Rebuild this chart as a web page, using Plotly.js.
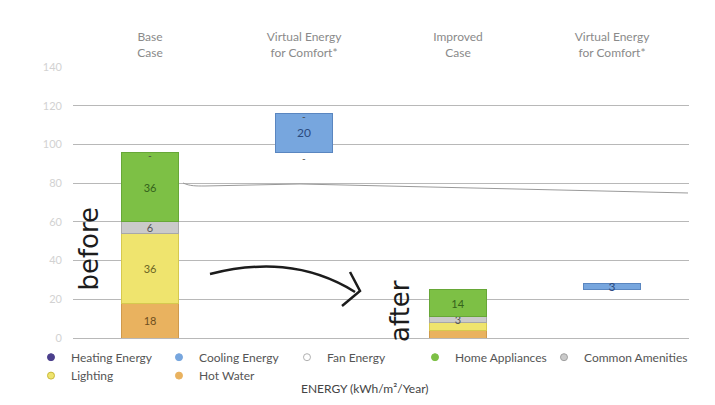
<!DOCTYPE html>
<html>
<head>
<meta charset="utf-8">
<script src="https://cdn.plot.ly/plotly-3.0.1.min.js"></script>
<style>html,body{margin:0;padding:0;background:#fff;}#chart{width:715px;height:405px;}</style>
</head>
<body>
<div id="chart"></div>
<script>
// ---- data ----
const categoryIds = ['base', 'virtual1', 'improved', 'virtual2'];
const categoryLabels = ['Base<br>Case', 'Virtual Energy<br>for Comfort*', 'Improved<br>Case', 'Virtual Energy<br>for Comfort*'];

const heatingEnergy   = [0, 0, 0, 0];
const coolingEnergy   = [0, 20, 0, 3];
const fanEnergy       = [0, 0, 0, 0];
const homeAppliances  = [36, 0, 14, 0];
const commonAmenities = [6, 0, 3, 0];
const lighting        = [36, 0, 4, 0];
const hotWater        = [18, 0, 4, 0];

const homeAppliancesLabels  = ['36', '', '14', ''];
const commonAmenitiesLabels = ['6', '', '3', ''];
const lightingLabels        = ['36', '', '', ''];
const hotWaterLabels        = ['18', '', '', ''];
const coolingLabels         = ['', '20', '', '3'];

// ---- build ----
const FONT = 'Lato, "Open Sans", sans-serif';
const BAR_W = 0.37;

function stackTrace(name, vals, labels, fill, edge, txtColor) {
  const x = [], y = [], t = [];
  vals.forEach((v, i) => { if (v) { x.push(categoryIds[i]); y.push(v); t.push(labels[i]); } });
  return {
    type: 'bar', name: name, x: x, y: y, text: t,
    textposition: 'inside', insidetextanchor: 'middle', constraintext: 'none', textangle: 0,
    textfont: {family: FONT, size: 11, color: txtColor},
    marker: {color: fill, line: {color: edge, width: 1}},
    width: BAR_W, showlegend: false, hoverinfo: 'x+y+name', cliponaxis: false
  };
}

// totals of the stacked cases (used as the base of the "virtual" floating bars)
const totals = categoryIds.map((_, i) => hotWater[i] + lighting[i] + commonAmenities[i] + homeAppliances[i] + heatingEnergy[i] + fanEnergy[i]);

const traces = [
  stackTrace('Hot Water', hotWater, hotWaterLabels, '#e9b25f', '#cf9a4c', '#6d4e1e'),
  stackTrace('Lighting', lighting, lightingLabels, '#efe46e', '#d6c94e', '#6b6424'),
  stackTrace('Common Amenities', commonAmenities, commonAmenitiesLabels, '#cacaca', '#a8a8a8', '#555555'),
  stackTrace('Home Appliances', homeAppliances, homeAppliancesLabels, '#7dc045', '#67a737', '#35631b'),
];

// floating cooling bars start at the previous case's total
(function () {
  const x = [], y = [], b = [], t = [];
  coolingEnergy.forEach((v, i) => {
    if (v) { x.push(categoryIds[i]); y.push(v); b.push(i > 0 ? totals[i - 1] : 0); t.push(coolingLabels[i]); }
  });
  traces.push({
    type: 'bar', name: 'Cooling Energy', x: x, y: y, base: b, text: t,
    textposition: 'inside', insidetextanchor: 'middle', constraintext: 'none', textangle: 0,
    textfont: {family: FONT, size: 12, color: '#2b4a7e'},
    marker: {color: '#77a6de', line: {color: '#5a86c0', width: 1}},
    width: BAR_W, showlegend: false, cliponaxis: false
  });
})();

// legend entries (circle markers), one small legend each so they can be laid out on a grid
const legendItems = [
  ['Heating Energy', '#4b3f8c', '#4b3f8c'],
  ['Cooling Energy', '#77a6de', '#77a6de'],
  ['Fan Energy', '#ffffff', '#b0b0b0'],
  ['Home Appliances', '#7dc045', '#7dc045'],
  ['Common Amenities', '#cacaca', '#a0a0a0'],
  ['Lighting', '#efe46e', '#c9b93a'],
  ['Hot Water', '#e9b25f', '#e9b25f'],
];
const legendX = [-0.0682, 0.1396, 0.3474, 0.5552, 0.7646, -0.0682, 0.1396];
const legendY = [-0.0173, -0.0173, -0.0173, -0.0173, -0.0173, -0.0853, -0.0853];

const legendCommon = {
  orientation: 'h', xanchor: 'left', yanchor: 'top', bgcolor: 'rgba(0,0,0,0)',
  font: {family: FONT, size: 12, color: '#555555'}, itemwidth: 30
};

const layout = {
  width: 715, height: 405,
  margin: {l: 73, r: 26, t: 67, b: 67, pad: 0},
  paper_bgcolor: '#ffffff', plot_bgcolor: '#ffffff',
  barmode: 'stack',
  font: {family: FONT, color: '#555'},
  showlegend: true,
  xaxis: {
    type: 'category', side: 'top', categoryorder: 'array', categoryarray: categoryIds,
    tickvals: categoryIds, ticktext: categoryLabels, range: [-0.5, 3.5],
    showgrid: false, showline: false, zeroline: false, ticks: '',
    tickfont: {family: FONT, size: 12, color: '#8a8a8a'}, ticklabelstandoff: 7, fixedrange: true
  },
  yaxis: {
    range: [0, 140], dtick: 20, tick0: 0,
    showgrid: true, gridcolor: '#b8b8b8', gridwidth: 1,
    zeroline: true, zerolinecolor: '#b8b8b8', zerolinewidth: 1,
    showline: false, ticks: '',
    tickfont: {family: FONT, size: 11, color: '#d2d2d2'}, ticklabelstandoff: 10, fixedrange: true
  }
};

legendItems.forEach((it, k) => {
  const lname = k === 0 ? 'legend' : 'legend' + (k + 1);
  layout[lname] = Object.assign({x: legendX[k], y: legendY[k]}, legendCommon);
  traces.push({
    type: 'scatter', mode: 'markers', name: it[0], x: [null], y: [null],
    marker: {symbol: 'circle', size: 7, color: it[1], line: {color: it[2], width: 1}},
    legend: lname, showlegend: true, hoverinfo: 'skip'
  });
});

const dashNotes = [
  {x: 'base', y: totals[0]},
  {x: 'virtual1', y: totals[0] + coolingEnergy[1]},
  {x: 'virtual1', y: totals[0]},
].map((d, k) => ({
  x: d.x, y: d.y, xref: 'x', yref: 'y', text: '-', showarrow: false,
  yshift: k === 2 ? -6 : -3, font: {family: FONT, size: 10, color: '#444'}
}));

layout.annotations = dashNotes.concat([
  {xref: 'paper', yref: 'paper', x: 0.474, y: -0.185, yanchor: 'middle', showarrow: false,
   text: 'ENERGY (kWh/m²/Year)', font: {family: FONT, size: 12, color: '#444'}},
  {xref: 'paper', yref: 'paper', x: 0.026, y: 0.33, xanchor: 'center', yanchor: 'middle', showarrow: false, textangle: -90,
   text: 'before', font: {family: '"DejaVu Sans", sans-serif', size: 26, color: '#1c1c1c'}},
  {xref: 'paper', yref: 'paper', x: 0.531, y: 0.10, xanchor: 'center', yanchor: 'middle', showarrow: false, textangle: -90,
   text: 'after', font: {family: '"DejaVu Sans", sans-serif', size: 26, color: '#1c1c1c'}}
]);

layout.shapes = [
  // hand-drawn arrow
  {type: 'path', xref: 'paper', yref: 'paper',
   path: 'M 0.2224,0.2362 C 0.30,0.28 0.38,0.28 0.4578,0.1697',
   line: {color: '#1c1c1c', width: 2.5}},
  {type: 'path', xref: 'paper', yref: 'paper',
   path: 'M 0.4497,0.2435 L 0.4659,0.1734 L 0.4367,0.1181',
   line: {color: '#1c1c1c', width: 2.5}},
  // faint stray line
  {type: 'path', xref: 'paper', yref: 'paper',
   path: 'M 0.1786,0.572 C 0.19,0.56 0.20,0.561 0.2143,0.5609 L 0.3685,0.5683 L 0.9984,0.5351',
   line: {color: '#9a9a9a', width: 1}}
];

Plotly.newPlot('chart', traces, layout, {displayModeBar: false, staticPlot: true});
</script>
</body>
</html>
